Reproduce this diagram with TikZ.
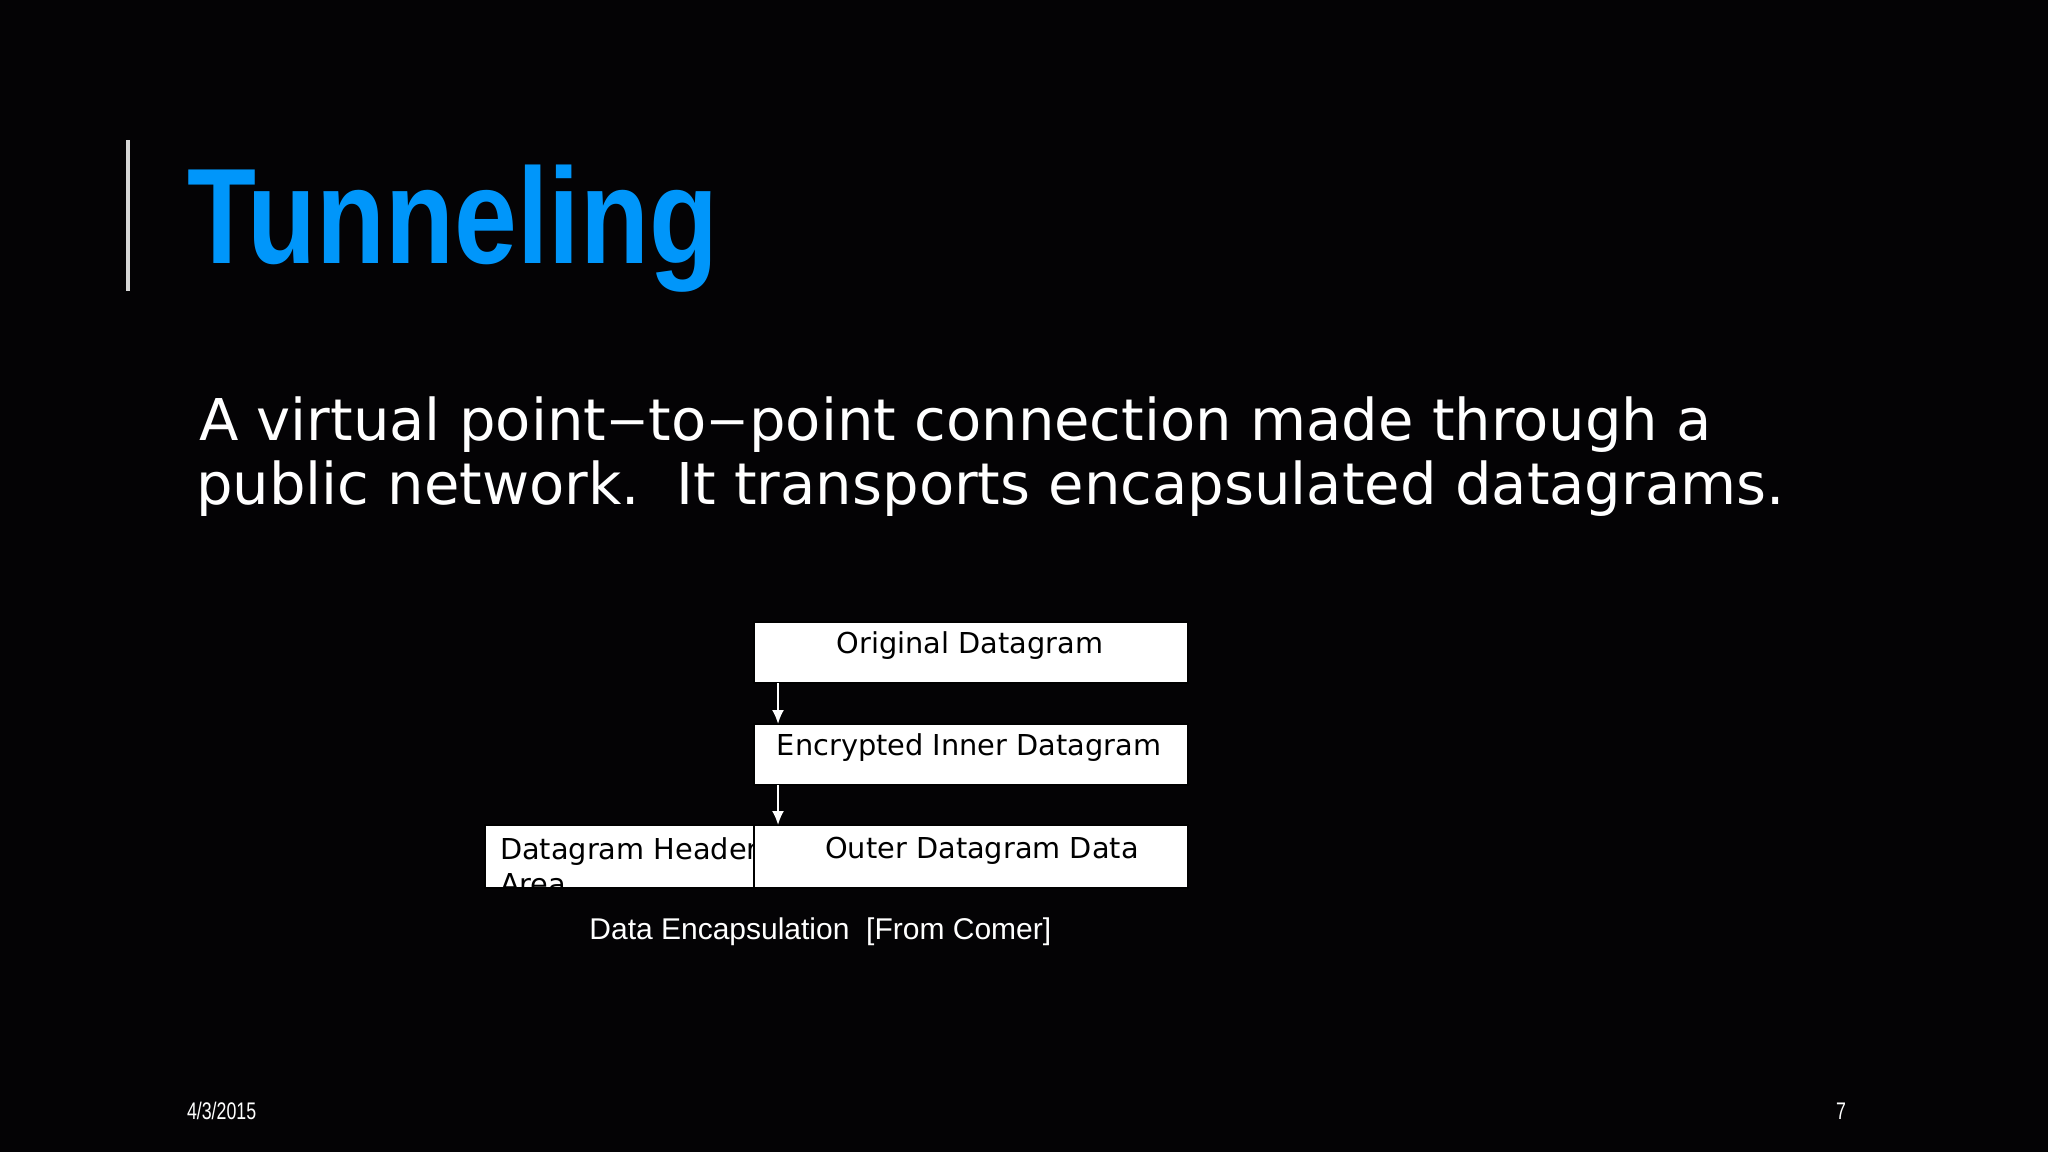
\documentclass[tikz,border=0pt]{standalone}
\usepackage{fontspec}
\setmainfont{DejaVu Sans}
\newfontfamily\libsans{Liberation Sans}
\usetikzlibrary{arrows.meta}
\definecolor{titleblue}{RGB}{0,150,250}
\definecolor{bargray}{RGB}{215,215,215}
\definecolor{bgblack}{RGB}{4,3,5}
\newcommand{\wdash}{\kern0.6pt\raisebox{1pt}{\scalebox{1.4}[1]{–}}\kern0.6pt}
\tikzset{
  txt/.style={inner sep=0pt, outer sep=0pt, anchor=base west},
  body/.style={txt, text=white, font=\fontsize{28.8}{35}\selectfont},
  boxnode/.style={draw=black, line width=0.6pt, fill=white, inner sep=0pt, outer sep=0pt, anchor=north west},
  boxtxt/.style={inner sep=0pt, outer sep=0pt, anchor=base, text=black, font=\fontsize{14.4}{17.5}\selectfont},
  arr/.style={draw=white, line width=1pt, -{Latex[length=7pt,width=6pt]}},
  foot/.style={inner sep=0pt, outer sep=0pt, text=white, font=\libsans\fontsize{12}{14}\selectfont}
}
\begin{document}
\begin{tikzpicture}[x=0.5pt,y=-0.5pt]
\fill[bgblack] (0,0) rectangle (2048,1152);
\useasboundingbox (0,0) rectangle (2048,1152);
% title bar
\draw[bargray, line width=1.6pt] (128,140) -- (128,291);
\node[txt, text=titleblue, font=\libsans\bfseries\fontsize{68}{80}\selectfont] (title) at (187,263) {\scalebox{0.83}[1]{Tunneling}};
% body
\node[body] (line1) at (199,440) {A virtual point\wdash to\wdash point connection made through a};
\node[body] (line2) at (196,504) {public network.\ \ It transports encapsulated datagrams.};
% boxes
\node[boxnode, minimum width=217pt, minimum height=30.5pt] (orig) at (754,622) {};
\node[boxnode, minimum width=217pt, minimum height=30.5pt] (enc) at (754,724) {};
\node[boxnode, minimum width=134.5pt, minimum height=31.5pt] (hdr) at (485,825) {};
\node[boxnode, minimum width=217pt, minimum height=31.5pt] (outer) at (754,825) {};
\node[boxtxt] (origtxt) at (970,653) {Original Datagram};
\node[boxtxt] (enctxt) at (969,755) {Encrypted Inner Datagram};
\node[boxtxt] (outertxt) at (982,858) {Outer Datagram Data};
\begin{scope}
\clip (485,825) rectangle (753,888);
\node[boxtxt, anchor=base west] (hdrtxt1) at (500,859) {Datagram Header};
\node[boxtxt, anchor=base west] (hdrtxt2) at (500,894) {Area};
\end{scope}
\draw[black, line width=0.6pt] (hdr.north east) -- (hdr.south east);
% arrows
\draw[arr] ([xshift=12pt]orig.south west) -- ([xshift=12pt]enc.north west);
\draw[arr] ([xshift=12pt]enc.south west) -- ([xshift=12pt]outer.north west);
% caption
\node[inner sep=0pt, anchor=base west, text=white, font=\libsans\fontsize{15}{18}\selectfont] (caption) at (589,939) {Data Encapsulation\ \ [From Comer]};
% footer
\node[foot, anchor=base west] (date) at (187,1119) {\scalebox{0.74}[1]{4/3/2015}};
\node[foot, anchor=base east] (page) at (1846,1119) {\scalebox{0.74}[1]{7}};
\end{tikzpicture}
\end{document}
